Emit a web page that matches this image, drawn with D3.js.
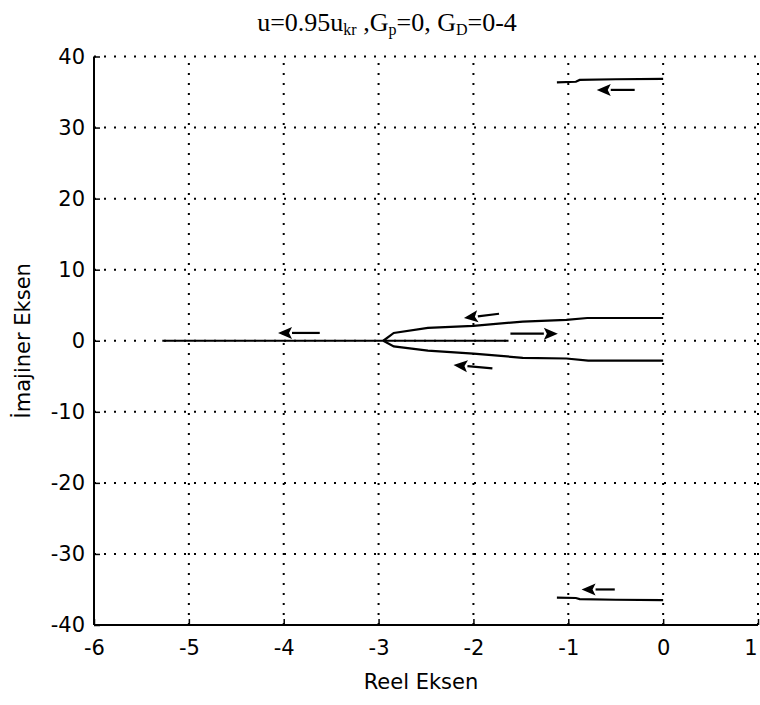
<!DOCTYPE html>
<html>
<head>
<meta charset="utf-8">
<script src="https://cdn.jsdelivr.net/npm/d3@7"></script>
<style>
  html, body { margin: 0; padding: 0; background: #fff; }
  svg { display: block; }
  .tick-label { font-family: "DejaVu Sans", Arial, sans-serif; font-size: 21px; fill: #000; }
  .axis-title { font-family: "DejaVu Sans", Arial, sans-serif; font-size: 21px; fill: #000; }
  .chart-title { font-family: "Liberation Serif", "Times New Roman", serif; font-size: 26px; fill: #000; }
</style>
</head>
<body>
<div id="chart"></div>
<script>
// axis ticks
const xTicks = [-6, -5, -4, -3, -2, -1, 0, 1];
const yTicks = [-40, -30, -20, -10, 0, 10, 20, 30, 40];
const xTickLabels = ['-6', '-5', '-4', '-3', '-2', '-1', '0', '1'];
const yTickLabels = ['-40', '-30', '-20', '-10', '0', '10', '20', '30', '40'];

// locus branches [real, imag]
const upperBranch = [[0, 36.85], [-0.5, 36.8], [-0.88, 36.7], [-0.92, 36.45], [-1.12, 36.35]];
const lowerBranch = [[0, -36.5], [-0.5, -36.45], [-0.88, -36.35], [-0.92, -36.2], [-1.12, -36.15]];
const realAxisBranch = [[-5.28, 0], [-2.93, 0]];
const centerBranch = [[-2.93, 0], [-1.63, 0]];
const loopUpper = [[-2.95, 0], [-2.84, 1.1], [-2.48, 1.8], [-2.0, 2.1], [-1.48, 2.7], [-1.02, 2.95], [-0.8, 3.2], [0, 3.2]];
const loopLower = [[-2.95, 0], [-2.84, -0.8], [-2.48, -1.4], [-2.0, -1.8], [-1.48, -2.4], [-1.02, -2.5], [-0.79, -2.8], [0, -2.8]];

// direction arrows [x1, y1, x2 (head), y2 (head)]
const arrows = [
    [-0.30, 35.3, -0.70, 35.3],
    [-0.51, -35.0, -0.86, -35.0],
    [-3.62, 1.1, -4.06, 1.1],
    [-1.61, 1.0, -1.11, 1.0],
    [-1.73, 3.8, -2.10, 3.2],
    [-1.80, -3.9, -2.21, -3.4]
];

const width = 760, height = 705;
const margin = { top: 56.5, right: 2, bottom: 80, left: 94 };

const svg = d3.select('#chart').append('svg')
    .attr('width', width)
    .attr('height', height);

const x = d3.scaleLinear().domain([-6, 1]).range([margin.left, width - margin.right]);
const y = d3.scaleLinear().domain([-40, 40]).range([height - margin.bottom, margin.top]);

// Grid (dotted)
const grid = svg.append('g')
    .attr('stroke', '#000')
    .attr('stroke-width', 2)
    .attr('stroke-dasharray', '2,8')
    .attr('fill', 'none');

xTicks.slice(1).forEach(t => {
    grid.append('line')
        .attr('x1', x(t)).attr('x2', x(t))
        .attr('y1', y(-40)).attr('y2', y(40));
});
yTicks.slice(1).forEach(t => {
    grid.append('line')
        .attr('x1', x(-6)).attr('x2', x(1))
        .attr('y1', y(t)).attr('y2', y(t));
});

// Axes (left + bottom, inward ticks)
const xAxis = d3.axisBottom(x).tickValues(xTicks).tickSize(-6).tickPadding(11)
    .tickFormat((d, i) => xTickLabels[i]);
const yAxis = d3.axisLeft(y).tickValues(yTicks).tickSize(-6).tickPadding(9)
    .tickFormat((d, i) => yTickLabels[i]);

const gx = svg.append('g').attr('transform', `translate(0,${y(-40)})`).call(xAxis);
const gy = svg.append('g').attr('transform', `translate(${x(-6)},0)`).call(yAxis);

[gx, gy].forEach(g => {
    g.select('.domain').attr('stroke', '#000').attr('stroke-width', 2);
    g.selectAll('.tick line').attr('stroke', '#000').attr('stroke-width', 1.5);
    g.selectAll('.tick text').attr('class', 'tick-label').attr('font-family', null).attr('font-size', null);
});
// square off the domain paths (no outer ticks)
gx.select('.domain').attr('d', `M${x(-6)},0H${x(1)}`);
gy.select('.domain').attr('d', `M0,${y(-40)}V${y(40)}`);
gx.selectAll('.tick text').attr('dy', '0.9em');
// keep the last label inside the picture
gx.selectAll('.tick text').filter(d => d === 1).attr('text-anchor', 'end').attr('x', -1);

// Locus lines
const line = d3.line().x(d => x(d[0])).y(d => y(d[1]));
const branches = [upperBranch, lowerBranch, realAxisBranch, centerBranch, loopUpper, loopLower];
svg.append('g').selectAll('path')
    .data(branches)
    .enter().append('path')
    .attr('d', line)
    .attr('fill', 'none')
    .attr('stroke', '#000')
    .attr('stroke-width', 2.2);

// Arrows
const ag = svg.append('g');
arrows.forEach(a => {
    const x1 = x(a[0]), y1 = y(a[1]), x2 = x(a[2]), y2 = y(a[3]);
    const ang = Math.atan2(y2 - y1, x2 - x1);
    const len = 14, half = 6;
    const bx = x2 - len * Math.cos(ang), by = y2 - len * Math.sin(ang);
    const nx = -Math.sin(ang), ny = Math.cos(ang);
    ag.append('line')
        .attr('x1', x1).attr('y1', y1).attr('x2', bx).attr('y2', by)
        .attr('stroke', '#000').attr('stroke-width', 2.2);
    ag.append('path')
        .attr('d', `M${x2},${y2}L${bx + nx * half},${by + ny * half}L${bx + 3 * Math.cos(ang)},${by + 3 * Math.sin(ang)}L${bx - nx * half},${by - ny * half}Z`)
        .attr('fill', '#000');
});

// Axis titles
svg.append('text')
    .attr('class', 'axis-title')
    .attr('x', 421)
    .attr('y', 689)
    .attr('text-anchor', 'middle')
    .text('Reel Eksen');

svg.append('text')
    .attr('class', 'axis-title')
    .attr('transform', `translate(30,${(y(-40) + y(40)) / 2}) rotate(-90)`)
    .attr('text-anchor', 'middle')
    .text('İmajiner Eksen');

// Title with subscripts
const title = svg.append('text')
    .attr('class', 'chart-title')
    .attr('x', 387)
    .attr('y', 31)
    .attr('text-anchor', 'middle');
const parts = [
    ['u=0.95u', false], ['kr', true], [' ,G', false], ['p', true],
    ['=0, G', false], ['D', true], ['=0-4', false]
];
parts.forEach(([t, sub]) => {
    title.append('tspan')
        .attr('baseline-shift', sub ? '-22%' : null)
        .attr('font-size', sub ? '16px' : null)
        .text(t);
});
</script>
</body>
</html>
